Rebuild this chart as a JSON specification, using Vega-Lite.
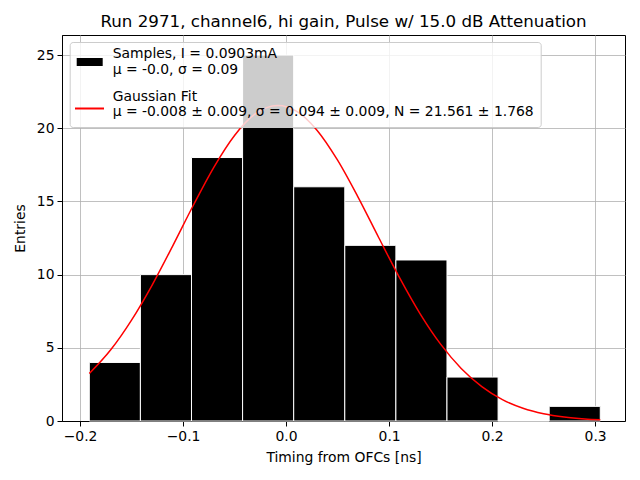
{
  "$schema": "https://vega.github.io/schema/vega-lite/v6.json",
  "width": 563,
  "height": 386,
  "autosize": "none",
  "padding": {"left": 62, "top": 35, "right": 15, "bottom": 59},
  "title": {"text": "Run 2971, channel6, hi gain, Pulse w/ 15.0 dB Attenuation", "fontSize": 16.7, "fontWeight": "normal", "font": "DejaVu Sans", "color": "black", "offset": 4},
  "config": {
    "font": "DejaVu Sans",
    "view": {"stroke": "black", "strokeWidth": 1},
    "axis": {"gridColor": "#b0b0b0", "gridWidth": 0.8, "gridOpacity": 1, "domainColor": "black", "tickColor": "black", "tickSize": 5, "labelColor": "black", "labelFontSize": 13.9, "labelFont": "DejaVu Sans", "titleFont": "DejaVu Sans", "titleFontSize": 13.9, "titleFontWeight": "normal", "titleColor": "black", "zindex": 1, "labelPadding": 3}
  },
  "datasets": {
    "bars": [
      {"x0": -0.191, "x1": -0.1414, "count": 4, "series": "Samples"},
      {"x0": -0.1414, "x1": -0.0918, "count": 10, "series": "Samples"},
      {"x0": -0.0918, "x1": -0.0422, "count": 18, "series": "Samples"},
      {"x0": -0.0422, "x1": 0.0074, "count": 25, "series": "Samples"},
      {"x0": 0.0074, "x1": 0.057, "count": 16, "series": "Samples"},
      {"x0": 0.057, "x1": 0.1066, "count": 12, "series": "Samples"},
      {"x0": 0.1066, "x1": 0.1562, "count": 11, "series": "Samples"},
      {"x0": 0.1562, "x1": 0.2058, "count": 3, "series": "Samples"},
      {"x0": 0.2058, "x1": 0.2554, "count": 0, "series": "Samples"},
      {"x0": 0.2554, "x1": 0.305, "count": 1, "series": "Samples"}
    ],
    "fit": [
      {"x": -0.191, "y": 3.24, "series": "Gaussian Fit"},
      {"x": -0.17, "y": 4.88, "series": "Gaussian Fit"},
      {"x": -0.15, "y": 6.89, "series": "Gaussian Fit"},
      {"x": -0.13, "y": 9.29, "series": "Gaussian Fit"},
      {"x": -0.11, "y": 11.97, "series": "Gaussian Fit"},
      {"x": -0.09, "y": 14.74, "series": "Gaussian Fit"},
      {"x": -0.07, "y": 17.35, "series": "Gaussian Fit"},
      {"x": -0.05, "y": 19.51, "series": "Gaussian Fit"},
      {"x": -0.03, "y": 20.98, "series": "Gaussian Fit"},
      {"x": -0.008, "y": 21.561, "series": "Gaussian Fit"},
      {"x": 0.01, "y": 21.17, "series": "Gaussian Fit"},
      {"x": 0.03, "y": 19.87, "series": "Gaussian Fit"},
      {"x": 0.05, "y": 17.82, "series": "Gaussian Fit"},
      {"x": 0.07, "y": 15.28, "series": "Gaussian Fit"},
      {"x": 0.09, "y": 12.52, "series": "Gaussian Fit"},
      {"x": 0.11, "y": 9.81, "series": "Gaussian Fit"},
      {"x": 0.13, "y": 7.34, "series": "Gaussian Fit"},
      {"x": 0.15, "y": 5.25, "series": "Gaussian Fit"},
      {"x": 0.17, "y": 3.59, "series": "Gaussian Fit"},
      {"x": 0.19, "y": 2.35, "series": "Gaussian Fit"},
      {"x": 0.21, "y": 1.46, "series": "Gaussian Fit"},
      {"x": 0.23, "y": 0.874, "series": "Gaussian Fit"},
      {"x": 0.25, "y": 0.499, "series": "Gaussian Fit"},
      {"x": 0.27, "y": 0.272, "series": "Gaussian Fit"},
      {"x": 0.29, "y": 0.142, "series": "Gaussian Fit"},
      {"x": 0.305, "y": 0.084, "series": "Gaussian Fit"}
    ]
  },
  "layer": [
    {
      "data": {"name": "bars"},
      "mark": {"type": "rect", "stroke": "white", "strokeWidth": 1},
      "encoding": {
        "x": {"field": "x0", "type": "quantitative", "scale": {"domain": [-0.2175, 0.329], "nice": false, "zero": false},
          "axis": {"title": "Timing from OFCs [ns]", "values": [-0.2, -0.1, 0, 0.1, 0.2, 0.3], "format": ".1f", "labelExpr": "replace(datum.label, '-', '\u2212')", "titlePadding": 8}},
        "x2": {"field": "x1"},
        "y": {"field": "count", "type": "quantitative", "scale": {"domain": [0, 26.37], "nice": false},
          "axis": {"title": "Entries", "values": [0, 5, 10, 15, 20, 25], "titlePadding": 9}},
        "y2": {"datum": 0},
        "fill": {"field": "series", "type": "nominal",
          "scale": {"domain": ["Samples", "Gaussian Fit"], "range": ["black", "transparent"]},
          "legend": {
            "title": null, "orient": "none", "legendX": 7.7, "legendY": 7, "padding": 7, "zindex": 1,
            "fillColor": "rgba(255,255,255,0.8)", "strokeColor": "#cccccc", "cornerRadius": 3,
            "labelFontSize": 13.9, "labelFont": "DejaVu Sans", "labelColor": "black", "labelLimit": 700, "labelOffset": 10,
            "labelBaseline": "line-bottom",
            "rowPadding": 12.5, "symbolSize": 676, "symbolOpacity": 1, "symbolStrokeWidth": 0,
            "symbolType": "M-1,-0.31H1V0.31H-1Z",
            "labelExpr": "datum.label == 'Samples' ? ['Samples, I = 0.0903mA', 'μ = -0.0, σ = 0.09'] : ['Gaussian Fit', 'μ = -0.008 ± 0.009, σ = 0.094 ± 0.009, N = 21.561 ± 1.768']"
          }}
      }
    },
    {
      "data": {"name": "fit"},
      "mark": {"type": "line", "strokeWidth": 1.5, "interpolate": "monotone"},
      "encoding": {
        "x": {"field": "x", "type": "quantitative"},
        "y": {"field": "y", "type": "quantitative"},
        "stroke": {"field": "series", "type": "nominal", "scale": {"domain": ["Gaussian Fit"], "range": ["red"]},
          "legend": {
            "title": null, "orient": "none", "legendX": 12, "legendY": 58, "padding": 0, "zindex": 2,
            "labelExpr": "''", "symbolType": "stroke", "symbolSize": 841, "symbolStrokeWidth": 2, "symbolOpacity": 1
          }}
      }
    }
  ]
}
